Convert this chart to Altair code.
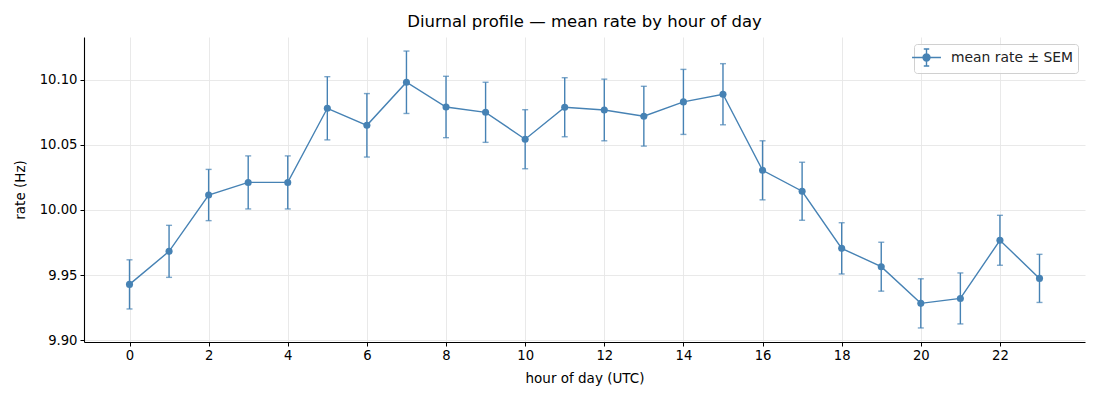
import altair as alt
import pandas as pd

hours = list(range(24))
mean_rate = [9.9428, 9.9682, 10.0115, 10.0212, 10.0212, 10.0782, 10.0651, 10.0982,
             10.0792, 10.0751, 10.0544, 10.0790, 10.0769, 10.0721, 10.0831, 10.0890,
             10.0305, 10.0144, 9.9705, 9.9564, 9.9282, 9.9320, 9.9767, 9.9474]
sem = [0.0189, 0.0200, 0.0197, 0.0204, 0.0204, 0.0243, 0.0244, 0.0240,
       0.0236, 0.0231, 0.0227, 0.0227, 0.0237, 0.0230, 0.0250, 0.0235,
       0.0227, 0.0223, 0.0197, 0.0188, 0.0189, 0.0196, 0.0192, 0.0185]
series_label = "mean rate ± SEM"
x_ticks = list(range(0, 23, 2))
y_ticks = [9.90, 9.95, 10.00, 10.05, 10.10]

df = pd.DataFrame({"hour": hours, "mean": mean_rate, "sem": sem})
df["lo"] = df["mean"] - df["sem"]
df["hi"] = df["mean"] + df["sem"]
df["series"] = series_label

BLUE = "#4682b4"
FONT = "DejaVu Sans"

x_enc = alt.X("hour:Q", scale=alt.Scale(domain=[-1.15, 24.15], nice=False, zero=False),
              axis=alt.Axis(values=x_ticks, title="hour of day (UTC)", format="d"))
y_scale = alt.Scale(domain=[9.8985, 10.133], nice=False, zero=False)
y_axis = alt.Axis(values=y_ticks, title="rate (Hz)", format=".2f")

base = alt.Chart(df)

legend_symbol = ("M-1.7,0L1.7,0M0,-1L0,1M-0.32,-1L0.32,-1M-0.32,1L0.32,1"
                 "M-0.41,0A0.41,0.41 0 1,0 0.41,0A0.41,0.41 0 1,0 -0.41,0Z")

line = base.mark_line(strokeWidth=1.4).encode(
    x=x_enc,
    y=alt.Y("mean:Q", scale=y_scale, axis=y_axis),
    color=alt.Color("series:N", scale=alt.Scale(range=[BLUE]),
                    legend=alt.Legend(title=None, orient="top-right", offset=7,
                                      symbolType=legend_symbol, symbolSize=289,
                                      symbolStrokeWidth=1.4, symbolFillColor=BLUE,
                                      labelFontSize=13.9, labelFont=FONT, labelColor="#222",
                                      strokeColor="#d0d0d0", fillColor="rgba(255,255,255,0.8)",
                                      cornerRadius=3, padding=4, symbolOffset=-1,
                                      labelOffset=15)),
)

bars = base.mark_rule(color=BLUE, strokeWidth=1.4).encode(
    x="hour:Q", y=alt.Y("lo:Q", scale=y_scale), y2="hi:Q")
cap_lo = base.mark_tick(color=BLUE, thickness=1.4, size=6, orient="horizontal").encode(
    x="hour:Q", y=alt.Y("lo:Q", scale=y_scale))
cap_hi = base.mark_tick(color=BLUE, thickness=1.4, size=6, orient="horizontal").encode(
    x="hour:Q", y=alt.Y("hi:Q", scale=y_scale))
pts = base.mark_point(filled=True, color=BLUE, size=50, opacity=1).encode(
    x="hour:Q", y=alt.Y("mean:Q", scale=y_scale))

chart = alt.layer(line, bars, cap_lo, cap_hi, pts).properties(
    width=1001, height=305,
    title=alt.TitleParams("Diurnal profile — mean rate by hour of day",
                          font=FONT, fontSize=16.5, fontWeight="normal", color="#000",
                          anchor="middle", offset=7),
    autosize=alt.AutoSizeParams(type="none"),
    padding={"left": 76, "top": 29, "right": 7, "bottom": 50},
).configure_view(stroke=None).configure_axis(
    labelFont=FONT, titleFont=FONT, labelFontSize=13.2, titleFontSize=13.5,
    titleFontWeight="normal", labelColor="#000", titleColor="#000",
    domainColor="#000", domainWidth=1.1, tickColor="#000", tickSize=4,
    gridColor="#e6e6e6", gridWidth=0.9, labelPadding=3,
).configure_axisX(titlePadding=10).configure_axisY(titlePadding=12)

chart.save("out.html", embed_options={"renderer": "svg", "actions": False})
